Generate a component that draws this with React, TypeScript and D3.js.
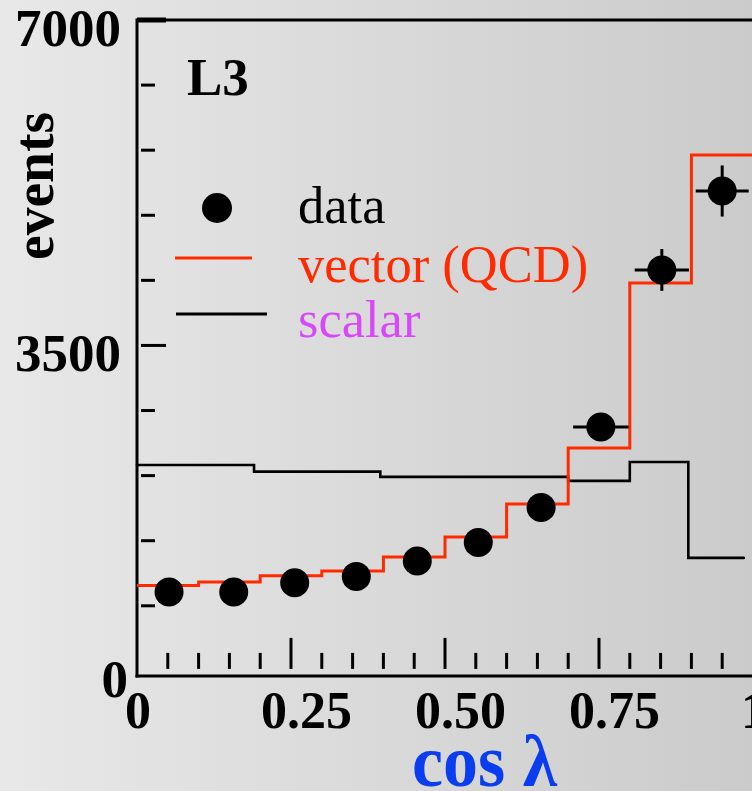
import React from "react";
import * as d3 from "d3";

// ---------- data ----------
const binEdges = [0, 0.1, 0.2, 0.3, 0.4, 0.5, 0.6, 0.7, 0.8, 0.9, 1.0];
const vectorQCD = [917, 957, 1022, 1075, 1226, 1441, 1796, 2398, 4172, 5548];

const scalarEdges = [0, 0.19, 0.395, 0.7, 0.8, 0.895, 0.985];
const scalarValues = [2215, 2143, 2086, 2043, 2247, 1215];

const dataX = [0.052, 0.157, 0.256, 0.356, 0.455, 0.554, 0.656, 0.753, 0.852, 0.95];
const dataY = [849, 849, 949, 1014, 1183, 1380, 1756, 2624, 4312, 5161];
const dataXErr = [0, 0, 0, 0, 0, 0, 0, 0.045, 0.044, 0.043];
const dataYErr = [0, 0, 0, 0, 0, 0, 0, 110, 225, 275];

const xTickLabels = ["0", "0.25", "0.50", "0.75", "1"];
const xTickValues = [0, 0.25, 0.5, 0.75, 1];
const yTickLabels = ["0", "3500", "7000"];
const yTickValues = [0, 3500, 7000];

const legendLabels = ["data", "vector (QCD)", "scalar"];

// ---------- styles ----------
const W = 752;
const H = 791;
const RED = "#ff2a00";
const MAGENTA = "#d848f8";
const BLUE = "#0a3cf0";
const FONT = "'Liberation Serif', 'Times New Roman', serif";

export default function App() {
  const x = d3.scaleLinear().domain([0, 1]).range([137, 753]);
  const y = d3.scaleLinear().domain([-55, 7000]).range([676, 20]);

  const line = d3
    .line<[number, number]>()
    .x((d) => x(d[0]))
    .y((d) => y(d[1]));

  const redPts: [number, number][] = [];
  vectorQCD.forEach((v, i) => {
    redPts.push([binEdges[i], v]);
    redPts.push([binEdges[i + 1], v]);
  });
  const blackPts: [number, number][] = [];
  scalarValues.forEach((v, i) => {
    blackPts.push([scalarEdges[i], v]);
    blackPts.push([scalarEdges[i + 1], v]);
  });

  const minorX = d3.range(1, 20).map((i) => i * 0.05);
  const yMinor = d3.range(1, 11).map((i) => i * 700);
  const y0 = y(0);

  return (
    <svg
      width={W}
      height={H}
      style={{ position: "absolute", left: 0, top: 0 }}
      fontFamily={FONT}
    >
      <defs>
        <linearGradient id="bg" x1="0" y1="0" x2="1" y2="0">
          <stop offset="0" stopColor="#e8e8e8" />
          <stop offset="1" stopColor="#cbcbcb" />
        </linearGradient>
      </defs>
      <rect x={0} y={0} width={W} height={H} fill="url(#bg)" />

      {/* frame */}
      <line x1={x(0)} x2={W} y1={y(7000)} y2={y(7000)} stroke="#000" strokeWidth={3} />
      <line x1={x(0)} x2={x(0)} y1={y(7000) - 1.5} y2={676 + 1.5} stroke="#000" strokeWidth={3} />
      <line x1={x(0) - 1.5} x2={W} y1={676} y2={676} stroke="#000" strokeWidth={3} />

      {/* y ticks */}
      {yMinor.map((v) => {
        const major = v === 3500 || v === 7000;
        return (
          <line
            key={"yt" + v}
            x1={v === 7000 ? x(0) : 141}
            x2={major ? 166 : 155}
            y1={y(v)}
            y2={y(v)}
            stroke="#000"
            strokeWidth={v === 7000 ? 5 : 3}
          />
        );
      })}

      {/* x ticks */}
      {minorX.map((v, i) => {
        const major = Math.abs(v - 0.25) < 1e-6 || Math.abs(v - 0.5) < 1e-6 || Math.abs(v - 0.75) < 1e-6;
        return (
          <line
            key={"xt" + i}
            x1={x(v)}
            x2={x(v)}
            y1={y0 - 2}
            y2={major ? y0 - 33 : y0 - 18}
            stroke="#000"
            strokeWidth={3}
          />
        );
      })}

      {/* y tick labels */}
      {yTickValues.map((v, i) => (
        <text
          key={"yl" + v}
          x={v === 0 ? 128 : 121}
          y={y(v) + 26}
          textAnchor="end"
          fontSize={53}
          fontWeight="bold"
        >
          {yTickLabels[i]}
        </text>
      ))}

      {/* x tick labels */}
      {xTickValues.map((v, i) => {
        const lbl = xTickLabels[i];
        const edge = lbl.length === 1;
        return (
          <text
            key={"xl" + i}
            x={edge ? x(v) + 1 : x(v) - 30}
            y={728}
            textAnchor={edge ? "middle" : "start"}
            fontSize={52}
            fontWeight="bold"
          >
            {lbl}
          </text>
        );
      })}

      {/* axis titles */}
      <text
        x={412}
        y={786}
        fontSize={74}
        fontWeight="bold"
        fill={BLUE}
        textLength={145}
        lengthAdjust="spacingAndGlyphs"
      >
        cos λ
      </text>
      <text
        transform="translate(53,186) rotate(-90)"
        textAnchor="middle"
        fontSize={57}
        fontWeight="bold"
        textLength={148}
        lengthAdjust="spacingAndGlyphs"
      >
        events
      </text>

      {/* L3 label */}
      <text x={187} y={95} fontSize={53} fontWeight="bold">
        L3
      </text>

      {/* scalar histogram */}
      <path d={line(blackPts) || ""} fill="none" stroke="#000" strokeWidth={2.6} strokeLinecap="round" />
      {/* vector histogram */}
      <path d={line(redPts) || ""} fill="none" stroke={RED} strokeWidth={3} />

      {/* data points */}
      {dataX.map((dx, i) => (
        <g key={"p" + i}>
          {dataXErr[i] > 0 && (
            <line
              x1={x(dx - dataXErr[i])}
              x2={x(dx + dataXErr[i])}
              y1={y(dataY[i])}
              y2={y(dataY[i])}
              stroke="#000"
              strokeWidth={3}
            />
          )}
          {dataYErr[i] > 0 && (
            <line
              x1={x(dx)}
              x2={x(dx)}
              y1={y(dataY[i] - dataYErr[i])}
              y2={y(dataY[i] + dataYErr[i])}
              stroke="#000"
              strokeWidth={3}
            />
          )}
          <circle cx={x(dx)} cy={y(dataY[i])} r={14.5} fill="#000" />
        </g>
      ))}

      {/* legend */}
      <circle cx={217} cy={208} r={15} fill="#000" />
      <line x1={175} x2={252} y1={258} y2={258} stroke={RED} strokeWidth={3} />
      <line x1={176} x2={267} y1={314} y2={314} stroke="#000" strokeWidth={3} />
      <text x={298} y={223} fontSize={52.5} fill="#000">
        {legendLabels[0]}
      </text>
      <text x={298} y={282} fontSize={52.5} fill={RED}>
        {legendLabels[1]}
      </text>
      <text x={298} y={337} fontSize={52.5} fill={MAGENTA}>
        {legendLabels[2]}
      </text>
    </svg>
  );
}
